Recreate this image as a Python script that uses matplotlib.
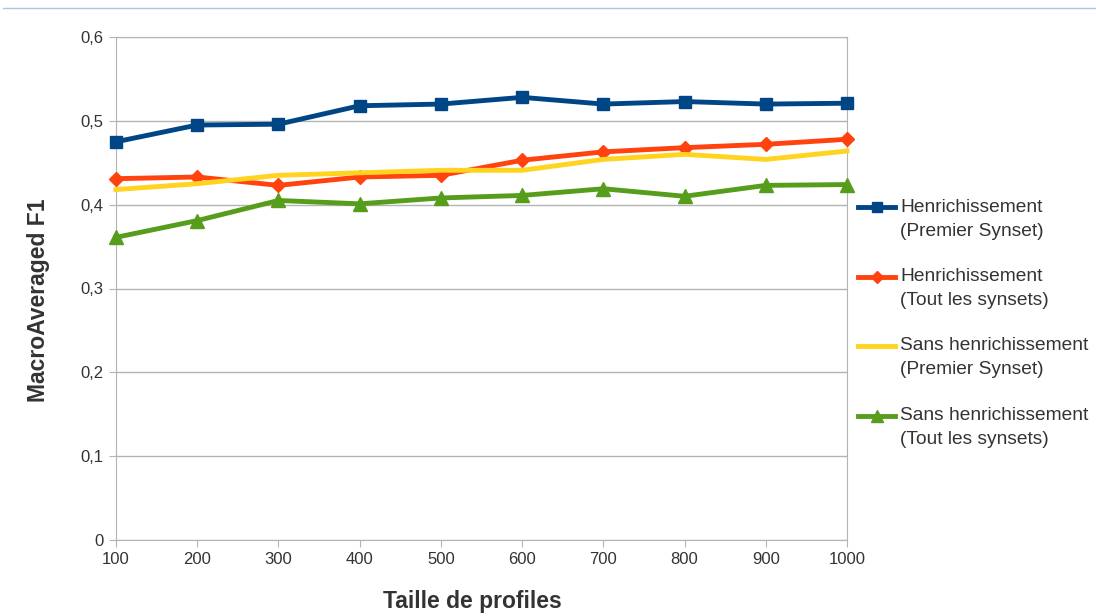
import matplotlib.pyplot as plt
from matplotlib.lines import Line2D

plt.rcParams['font.family'] = ['Liberation Sans', 'DejaVu Sans']

# Profile sizes and F1 scores for each configuration
tailles = [100, 200, 300, 400, 500, 600, 700, 800, 900, 1000]
henri_premier = [0.475, 0.495, 0.496, 0.518, 0.520, 0.528, 0.520, 0.523, 0.520, 0.521]
henri_tous = [0.431, 0.433, 0.423, 0.433, 0.435, 0.453, 0.463, 0.468, 0.472, 0.478]
sans_premier = [0.418, 0.425, 0.435, 0.438, 0.441, 0.441, 0.454, 0.460, 0.454, 0.464]
sans_tous = [0.361, 0.381, 0.405, 0.401, 0.408, 0.411, 0.419, 0.410, 0.423, 0.424]

labels = ["Henrichissement\n(Premier Synset)",
          "Henrichissement\n(Tout les synsets)",
          "Sans henrichissement\n(Premier Synset)",
          "Sans henrichissement\n(Tout les synsets)"]
yticks = [0, 0.1, 0.2, 0.3, 0.4, 0.5, 0.6]
ytick_labels = ["0", "0,1", "0,2", "0,3", "0,4", "0,5", "0,6"]

series = [henri_premier, henri_tous, sans_premier, sans_tous]
colors = ['#004586', '#ff420e', '#ffd320', '#579d1c']
markers = ['s', 'D', None, '^']
msizes = [9, 7, 0, 10]
leg_msizes = [7, 6, 0, 8]

W, H = 1096, 616
fig = plt.figure(figsize=(W / 100, H / 100), dpi=100)
ax = fig.add_axes([116 / W, 1 - 540 / H, (847 - 116) / W, (540 - 37) / H])

for vals, c, m, ms, lab in zip(series, colors, markers, msizes, labels):
    ax.plot(tailles, vals, color=c, lw=3.5, marker=m, ms=ms, label=lab, clip_on=False, zorder=3)

ax.set_xlim(100, 1000)
ax.set_ylim(0, 0.6)
ax.set_xticks(tailles)
ax.set_yticks(yticks)
ax.set_yticklabels(ytick_labels)
ax.tick_params(labelsize=12, colors='#b3b3b3', labelcolor='#333333', length=5, pad=4)
ax.yaxis.grid(True, color='#b3b3b3', lw=1)
ax.set_axisbelow(True)
for s in ax.spines.values():
    s.set_color('#b3b3b3')

ax.set_xlabel('Taille de profiles', fontsize=16.5, fontweight='bold', color='#333333', labelpad=16)
ax.set_ylabel('MacroAveraged F1', fontsize=16.5, fontweight='bold', color='#333333', labelpad=22)
ax.xaxis.label.set_x(0.487)
ax.yaxis.label.set_y(0.477)

# legend drawn by hand: handle level with the first text line
for i, (c, m, ms, lab) in enumerate(zip(colors, markers, leg_msizes, labels)):
    yc = 207 + i * 69.5
    fy = 1 - yc / H
    fig.add_artist(Line2D([858 / W, 895 / W], [fy, fy], color=c, lw=3.5, transform=fig.transFigure))
    if m:
        fig.add_artist(Line2D([876.5 / W], [fy], color=c, marker=m, ms=ms, transform=fig.transFigure))
    for j, line in enumerate(lab.split('\n')):
        fig.text(900 / W, 1 - (yc + j * 24) / H, line, fontsize=13.8, color='#333333', va='center', ha='left')

# thin rule across the top
fig.add_artist(Line2D([0.003, 1.0], [0.987, 0.987], color='#a9c6e8', lw=1, transform=fig.transFigure))

fig.savefig('out.png', dpi=100, facecolor='white')
